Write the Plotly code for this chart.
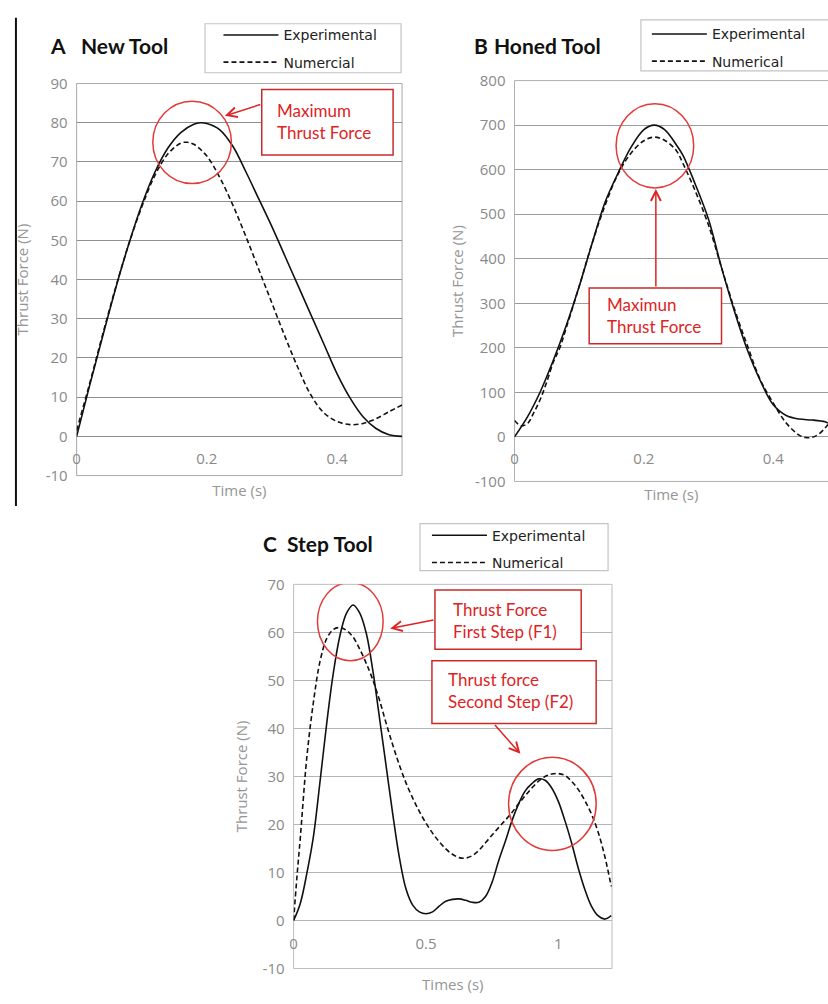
import plotly.graph_objects as go

# ---------------- data ----------------
# A  New Tool
a_time_exp = [0, 0.02, 0.04, 0.06, 0.08, 0.1, 0.12, 0.14, 0.16, 0.18, 0.19, 0.2, 0.22,
              0.24, 0.26, 0.28, 0.3, 0.32, 0.34, 0.36, 0.38, 0.4, 0.42, 0.44, 0.46, 0.48, 0.5]
a_force_exp = [0, 13, 25.5, 37.8, 49, 59, 67.3, 73.5, 77.5, 79.6, 80, 79.8, 78.2,
               74, 67.5, 60.5, 53.5, 46, 38.5, 31, 23.5, 16, 9.8, 5, 2, 0.4, 0]
a_time_num = [0, 0.02, 0.04, 0.06, 0.08, 0.1, 0.12, 0.14, 0.16, 0.17, 0.18, 0.2, 0.22,
              0.24, 0.26, 0.28, 0.3, 0.32, 0.34, 0.36, 0.38, 0.4, 0.42, 0.44, 0.46, 0.48, 0.5]
a_force_num = [1.5, 13.5, 26, 38, 49, 58.5, 66.5, 72, 74.8, 75, 74.5, 71.5, 66,
               59, 51, 42.5, 34, 25.5, 17.5, 10.5, 6, 3.8, 3, 3.3, 4.5, 6.3, 8]
a_yticks = [-10, 0, 10, 20, 30, 40, 50, 60, 70, 80, 90]
a_xticks = [0, 0.2, 0.4]

# B  Honed Tool
b_time_exp = [0, 0.02, 0.04, 0.06, 0.08, 0.1, 0.12, 0.14, 0.16, 0.18, 0.2, 0.216, 0.232,
              0.25, 0.26, 0.28, 0.3, 0.32, 0.34, 0.36, 0.38, 0.4, 0.42, 0.44, 0.46, 0.48, 0.4846]
b_force_exp = [0, 45, 102, 172, 250, 338, 435, 527, 592, 650, 690, 700, 690,
               656, 633, 565, 488, 380, 282, 195, 126, 72, 48, 40, 38, 34, 31]
b_time_num = [0, 0.01, 0.02, 0.03, 0.04, 0.05, 0.06, 0.07, 0.08, 0.1, 0.12, 0.14, 0.16,
              0.18, 0.2, 0.216, 0.232, 0.25, 0.26, 0.28, 0.3, 0.32, 0.34, 0.36, 0.38, 0.4,
              0.42, 0.44, 0.45, 0.46, 0.47, 0.48, 0.4846]
b_force_num = [37, 25, 30, 55, 85, 124, 168, 200, 245, 338, 435, 520, 590,
               637, 665, 673, 666, 643, 615, 550, 475, 380, 287, 205, 128, 76,
               31, 4, -1.5, -1, 6, 19.8, 28]
b_yticks = [-100, 0, 100, 200, 300, 400, 500, 600, 700, 800]
b_xticks = [0, 0.2, 0.4]

# C  Step Tool
c_time_exp = [0, 0.025, 0.05, 0.075, 0.1, 0.125, 0.15, 0.175, 0.2, 0.225, 0.25, 0.275,
              0.3, 0.325, 0.35, 0.375, 0.4, 0.425, 0.45, 0.475, 0.5, 0.525, 0.55, 0.575,
              0.6, 0.625, 0.65, 0.675, 0.7, 0.725, 0.75, 0.775, 0.8, 0.825, 0.85, 0.875,
              0.9, 0.925, 0.95, 0.975, 1.0, 1.025, 1.05, 1.075, 1.1, 1.125, 1.15, 1.175, 1.2]
c_force_exp = [0, 3.5, 9.8, 17.5, 29, 41, 51.5, 59.3, 64, 65.7, 64, 59.7,
               51.8, 42, 32, 22, 13, 6.5, 3.2, 1.8, 1.4, 1.8, 3, 4,
               4.4, 4.5, 4.2, 3.8, 3.8, 5, 8, 12.5, 16.5, 20.8, 24.3, 27,
               28.5, 29.5, 29.2, 27.6, 24.8, 20.8, 16.2, 11, 6.5, 3, 1, 0.3, 1]
c_time_num = [0, 0.0125, 0.025, 0.05, 0.075, 0.1, 0.125, 0.15, 0.175, 0.2, 0.225, 0.25,
              0.275, 0.3, 0.325, 0.35, 0.375, 0.4, 0.425, 0.45, 0.475, 0.5, 0.525, 0.55,
              0.575, 0.6, 0.625, 0.65, 0.675, 0.7, 0.725, 0.75, 0.775, 0.8, 0.825, 0.85,
              0.875, 0.9, 0.925, 0.95, 0.975, 1.0, 1.025, 1.05, 1.075, 1.1, 1.125, 1.15,
              1.175, 1.2]
c_force_num = [0, 9, 17, 34, 45.5, 54, 58.7, 60.6, 61, 60.4, 59, 56.5,
               53.5, 50, 45.8, 41, 36.5, 32.3, 28.6, 25.5, 22.7, 20.3, 18.2, 16.4,
               14.9, 13.8, 13.1, 13, 13.5, 14.6, 16.2, 17.8, 19.4, 20.9, 22.5, 24.3,
               26, 27.6, 29, 30, 30.5, 30.6, 30.2, 29, 27.3, 25, 22.2, 18.5,
               13.5, 7.1]
c_yticks = [-10, 0, 10, 20, 30, 40, 50, 60, 70]
c_xticks = [0, 0.5, 1]

# ---------------- page geometry ----------------
W, H = 828, 1004


def px(x):
    return x / W


def py(y):
    return 1 - y / H


def labels(values):
    # plain hyphen for negatives
    return ["%g" % v for v in values]


TICK_FONT = dict(family="Open Sans", size=15, color="#8a8a8a")
TITLE_FONT = dict(family="Open Sans", size=15, color="#959595")
LEGEND_FONT = dict(family="DejaVu Sans", size=14, color="#222222")
RED = "#dd2424"
CIRCLE_RED = "#e23a3a"
BOX_RED = "#c92a2a"
DASH = "5px,3px"

fig = go.Figure()


def add_pair(t_exp, f_exp, t_num, f_num, xa, ya, legend, num_name):
    fig.add_trace(go.Scatter(
        x=t_exp, y=f_exp, mode="lines", name="Experimental",
        line=dict(color="#111111", width=1.6, shape="spline", smoothing=1.0),
        xaxis=xa, yaxis=ya, legend=legend, legendgroup=legend + "e"))
    fig.add_trace(go.Scatter(
        x=t_num, y=f_num, mode="lines", name=num_name,
        line=dict(color="#111111", width=1.6, dash=DASH, shape="spline", smoothing=1.0),
        xaxis=xa, yaxis=ya, legend=legend, legendgroup=legend + "n"))


add_pair(a_time_exp, a_force_exp, a_time_num, a_force_num, "x", "y", "legend", "Numercial")
add_pair(b_time_exp, b_force_exp, b_time_num, b_force_num, "x2", "y2", "legend2", "Numerical")
add_pair(c_time_exp, c_force_exp, c_time_num, c_force_num, "x3", "y3", "legend3", "Numerical")


def x_axis(left, right, rng, ticks, zero_px, title, standoff):
    return dict(domain=[px(left), px(right)], range=rng, anchor="free", position=py(zero_px),
                tickmode="array", tickvals=ticks, ticktext=labels(ticks), ticks="",
                ticklabelstandoff=12, tickfont=TICK_FONT,
                showgrid=False, zeroline=False, showline=False, fixedrange=True,
                title=dict(text=title, font=TITLE_FONT, standoff=standoff))


def y_axis(top, bottom, rng, ticks, anchor, grid, standoff):
    return dict(domain=[py(bottom), py(top)], range=rng, anchor=anchor,
                tickmode="array", tickvals=ticks, ticktext=labels(ticks), ticks="",
                ticklabelstandoff=8, tickfont=TICK_FONT,
                showgrid=True, gridcolor=grid, gridwidth=1,
                zeroline=True, zerolinecolor=grid, zerolinewidth=1,
                showline=False, fixedrange=True,
                title=dict(text="Thrust Force (N)", font=TITLE_FONT, standoff=standoff))


def legend_at(x, y):
    return dict(x=px(x), y=py(y), xanchor="left", yanchor="top",
                bgcolor="rgba(0,0,0,0)", borderwidth=0, font=LEGEND_FONT,
                itemwidth=55, tracegroupgap=6, traceorder="grouped")


fig.update_layout(
    width=W, height=H, margin=dict(l=0, r=0, t=0, b=0),
    paper_bgcolor="white", plot_bgcolor="white",
    xaxis=x_axis(73, 400, [0, 0.5], a_xticks, 434, "Time (s)", 18),
    yaxis=y_axis(74, 474, [-10, 90], a_yticks, "x", "#8f8f8f", 12.5),
    xaxis2=x_axis(513, 828, [0, 0.4846], b_xticks, 434, "Time (s)", 22),
    yaxis2=y_axis(71, 480, [-100, 800], b_yticks, "x2", "#9c9c9c", 7),
    xaxis3=x_axis(291, 611, [0, 1.203], c_xticks, 928, "Times (s)", 27.5),
    yaxis3=y_axis(585, 977, [-10, 70], c_yticks, "x3", "#b5b5b5", 10.5),
    legend=legend_at(215.5, 8.5),
    legend2=legend_at(646, 7.5),
    legend3=legend_at(425, 519),
)

shapes = []
# plot-area frames
for xr, yr, col, x1 in (("x", "y", "#a8a8a8", 1), ("x2", "y2", "#b0b0b0", 1.01),
                        ("x3", "y3", "#bdbdbd", 1)):
    shapes.append(dict(type="rect", xref=xr + " domain", yref=yr + " domain",
                       x0=0, x1=x1, y0=0, y1=1, line=dict(color=col, width=1), layer="below"))
# legend frames
for x0, x1, y0, y1 in ((202, 399, 13, 63), (640, 832, 9, 61), (418, 607, 523, 571)):
    shapes.append(dict(type="rect", xref="paper", yref="paper",
                       x0=px(x0), x1=px(x1), y0=py(y1), y1=py(y0),
                       line=dict(color="#c4c4c4", width=1.2)))
# left rule beside panel A
shapes.append(dict(type="line", xref="paper", yref="paper", x0=px(12), x1=px(12),
                   y0=py(505), y1=py(7), line=dict(color="#111111", width=2)))

# highlight circles around the peaks
for xr, yr, x0, x1, y0, y1 in (("x", "y", 0.117, 0.2378, 64.5, 85.5),
                               ("x2", "y2", 0.157, 0.277, 559, 748),
                               ("x3", "y3", 0.0902, 0.3383, 54.1, 70.4),
                               ("x3", "y3", 0.812, 1.143, 14.6, 34.0)):
    shapes.append(dict(type="circle", xref=xr, yref=yr, x0=x0, x1=x1, y0=y0, y1=y1,
                       line=dict(color=CIRCLE_RED, width=1.5), layer="above"))

# callout boxes
for xr, yr, x0, x1, y0, y1 in (("x", "y", 0.2844, 0.4862, 71.75, 88.5),
                               ("x2", "y2", 0.1154, 0.32, 209, 334.5),
                               ("x3", "y3", 0.534, 1.0865, 56.5, 68.8),
                               ("x3", "y3", 0.5226, 1.143, 41.0, 54.1)):
    shapes.append(dict(type="rect", xref=xr, yref=yr, x0=x0, x1=x1, y0=y0, y1=y1,
                       fillcolor="white", line=dict(color=BOX_RED, width=1.5), layer="above"))

fig.update_layout(shapes=shapes)

ann = []
# callout texts
for xr, yr, x, y, txt in (("x", "y", 0.3043, 80.4, "Maximum<br>Thrust Force"),
                          ("x2", "y2", 0.14, 272, "Maximun<br>Thrust Force"),
                          ("x3", "y3", 0.594, 62.4, "Thrust Force<br>First Step (F1)"),
                          ("x3", "y3", 0.575, 47.8, "Thrust force<br>Second Step (F2)")):
    ann.append(dict(xref=xr, yref=yr, x=x, y=y, text=txt, showarrow=False,
                    xanchor="left", yanchor="middle", align="left",
                    font=dict(family="Lato", size=17, color=RED)))
# arrows from the boxes to the circles
for xr, yr, hx, hy, tx, ty in (("x", "y", 0.2278, 81.75, 0.2844, 84.75),
                               ("x2", "y2", 0.2185, 556.8, 0.2185, 334.5),
                               ("x3", "y3", 0.3647, 60.8, 0.534, 62.65),
                               ("x3", "y3", 0.857, 34.7, 0.7556, 41.0)):
    ann.append(dict(xref=xr, yref=yr, x=hx, y=hy, axref=xr, ayref=yr, ax=tx, ay=ty,
                    text="", showarrow=True, arrowhead=5, arrowsize=1.3, arrowwidth=1.5,
                    arrowcolor=RED, standoff=0, startstandoff=0))
# panel titles
for x, y, txt in ((44, 35, "A"), (75, 35, "New Tool"), (470, 35, "B"), (490, 35, "Honed Tool"),
                  (258, 543, "C"), (282, 543, "Step Tool")):
    ann.append(dict(xref="paper", yref="paper", x=px(x), y=py(y), text="<b>%s</b>" % txt,
                    showarrow=False, xanchor="left", yanchor="middle",
                    font=dict(family="Lato", size=21, color="#111111")))

fig.update_layout(annotations=ann)

fig.write_html("out.html")
